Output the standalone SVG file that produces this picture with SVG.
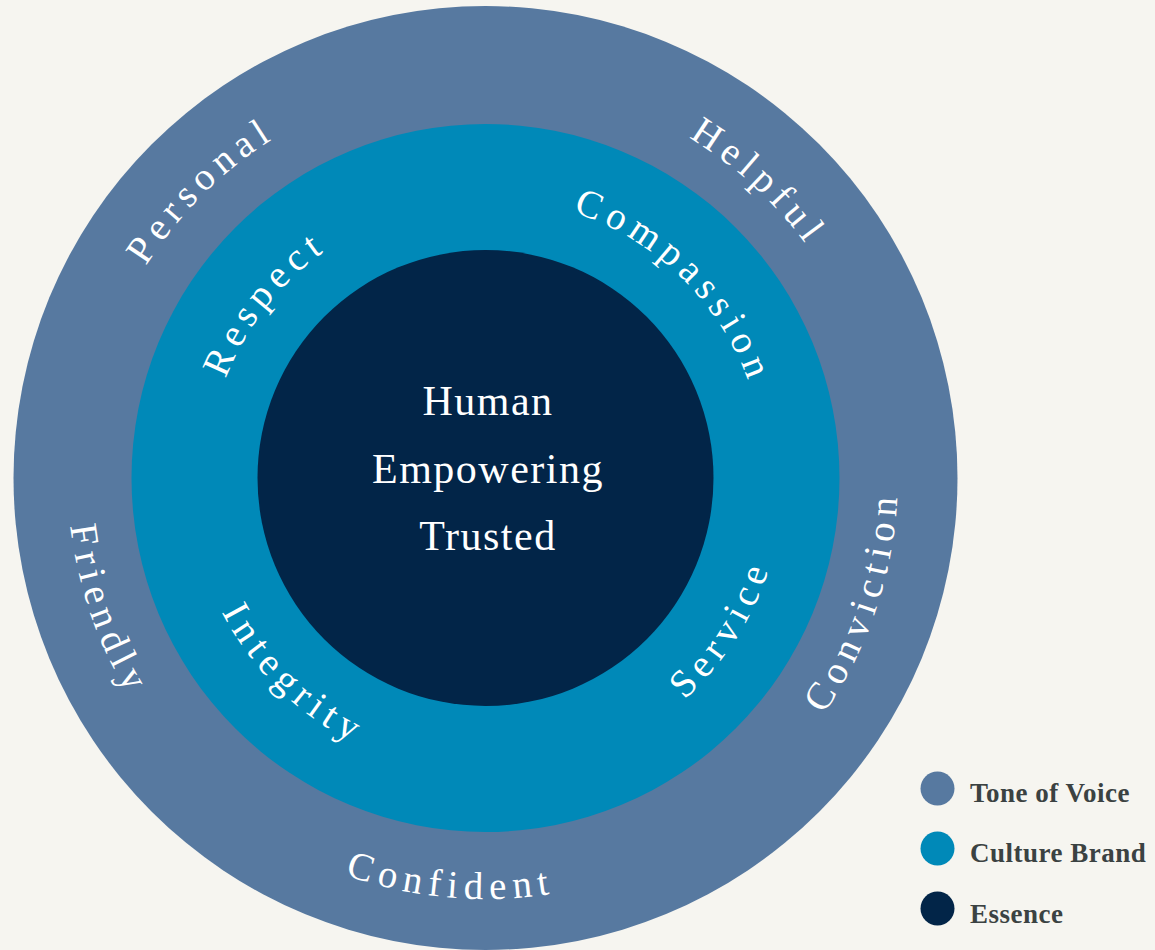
<svg xmlns="http://www.w3.org/2000/svg" xmlns:xlink="http://www.w3.org/1999/xlink" width="1155" height="950" viewBox="0 0 1155 950">
  <style>
    .ring { font-family: "Liberation Serif", "DejaVu Serif", serif; font-size: 39px; fill: #ffffff; letter-spacing: 6.5px; }
    .core { font-family: "Liberation Serif", "DejaVu Serif", serif; font-size: 42px; fill: #ffffff; text-anchor: middle; letter-spacing: 1.5px; }
    .legend { font-family: "Liberation Serif", "DejaVu Serif", serif; font-size: 27px; font-weight: bold; fill: #3b4242; letter-spacing: 0.5px; }
    .tone { fill: #5779a0; }
    .culture { fill: #0089b8; }
    .essence { fill: #022548; }
  </style>
  <defs>
    <path id="p-personal" d="M199.8,760.8 A402,402 0 0 1 771.2,195.2"/>
    <path id="p-helpful" d="M190.1,205.4 A402,402 0 0 1 780.9,750.6"/>
    <path id="p-friendly" d="M348,83.2 A418,418 0 0 0 623,872.8"/>
    <path id="p-confident" d="M66,442 A421,421 0 0 0 905,514"/>
    <path id="p-conviction" d="M353.6,874.6 A418,418 0 0 0 617.4,81.4"/>
    <path id="p-respect" d="M313.2,696.2 A278,278 0 0 1 657.8,259.8"/>
    <path id="p-compassion" d="M285.8,281.7 A280,280 0 0 1 685.2,674.3"/>
    <path id="p-integrity" d="M272.6,269.5 A298,298 0 0 0 698.4,686.5"/>
    <path id="p-service" d="M324.3,731 A300,300 0 0 0 646.7,225"/>
  </defs>
  <rect x="0" y="0" width="1155" height="950" fill="#f6f5f0"/>

  <g id="tone-of-voice">
    <circle class="tone" cx="485.5" cy="478" r="472"/>
  </g>
  <g id="culture-brand">
    <circle class="culture" cx="485.5" cy="478" r="354"/>
  </g>
  <g id="essence">
    <circle class="essence" cx="485.5" cy="478" r="228"/>
    <text class="core" x="488" y="415">Human</text>
    <text class="core" x="488" y="483">Empowering</text>
    <text class="core" x="488" y="550">Trusted</text>
  </g>

  <g id="tone-labels">
    <text class="ring"><textPath xlink:href="#p-personal" href="#p-personal" startOffset="50%" text-anchor="middle">Personal</textPath></text>
    <text class="ring"><textPath xlink:href="#p-helpful" href="#p-helpful" startOffset="50%" text-anchor="middle">Helpful</textPath></text>
    <text class="ring"><textPath xlink:href="#p-friendly" href="#p-friendly" startOffset="50%" text-anchor="middle">Friendly</textPath></text>
    <text class="ring"><textPath xlink:href="#p-confident" href="#p-confident" startOffset="50%" text-anchor="middle">Confident</textPath></text>
    <text class="ring"><textPath xlink:href="#p-conviction" href="#p-conviction" startOffset="50%" text-anchor="middle">Conviction</textPath></text>
  </g>
  <g id="culture-labels">
    <text class="ring"><textPath xlink:href="#p-respect" href="#p-respect" startOffset="50%" text-anchor="middle">Respect</textPath></text>
    <text class="ring"><textPath xlink:href="#p-compassion" href="#p-compassion" startOffset="50%" text-anchor="middle">Compassion</textPath></text>
    <text class="ring"><textPath xlink:href="#p-integrity" href="#p-integrity" startOffset="50%" text-anchor="middle">Integrity</textPath></text>
    <text class="ring"><textPath xlink:href="#p-service" href="#p-service" startOffset="50%" text-anchor="middle">Service</textPath></text>
  </g>

  <g id="legend">
    <g id="legend-tone">
      <circle class="tone" cx="937.5" cy="788.5" r="17"/>
      <text class="legend" x="970" y="802">Tone of Voice</text>
    </g>
    <g id="legend-culture">
      <circle class="culture" cx="937.5" cy="848.5" r="17"/>
      <text class="legend" x="970" y="862">Culture Brand</text>
    </g>
    <g id="legend-essence">
      <circle class="essence" cx="937.5" cy="908.5" r="17"/>
      <text class="legend" x="970" y="923">Essence</text>
    </g>
  </g>
</svg>
